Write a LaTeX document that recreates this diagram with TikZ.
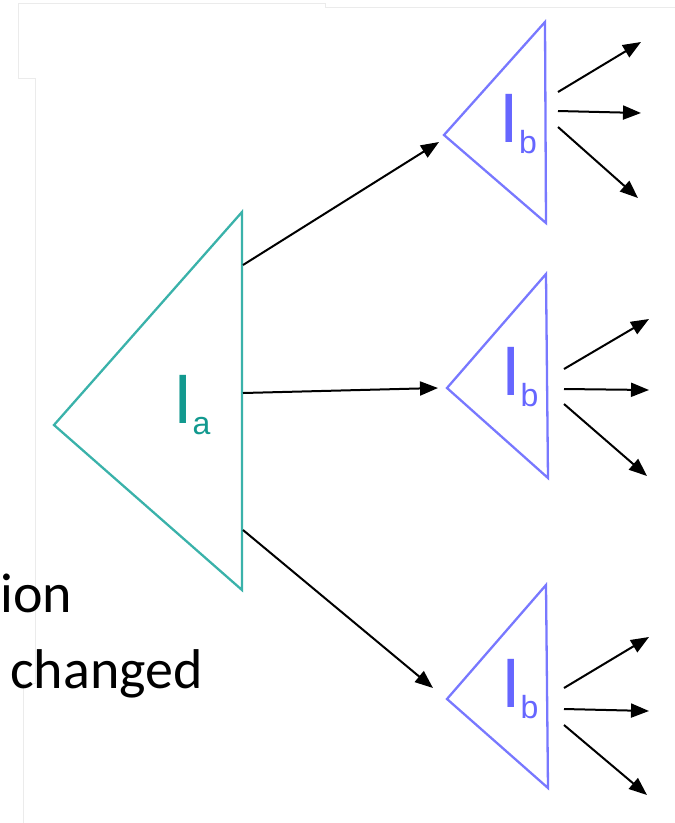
\documentclass[tikz,border=0pt]{standalone}
\usepackage{fontspec}
\setmainfont{Liberation Sans}
\newfontfamily\calib{Carlito}
\usetikzlibrary{arrows.meta}
\definecolor{tealline}{HTML}{3AB2AA}
\definecolor{teallab}{HTML}{12998F}
\definecolor{blueline}{HTML}{7878FF}
\definecolor{bluelab}{HTML}{6666FF}
\definecolor{faint}{HTML}{EBEBEB}
\tikzset{
  tria/.style={draw=tealline, line width=2.3pt, line join=miter},
  trib/.style={draw=blueline, line width=2.3pt, line join=miter},
  conn/.style={draw=black, line width=2pt, -{Triangle[length=18pt,width=14pt]}},
  lab/.style={inner sep=0pt, anchor=base west},
  faintline/.style={draw=faint, line width=0.9pt}
}
\newcommand{\mylab}[1]{{\fontsize{70}{70}\selectfont I}\raisebox{-11pt}{\fontsize{32}{32}\selectfont #1}}
\begin{document}
\begin{tikzpicture}[x=1pt,y=-1pt]
\useasboundingbox (0,0) rectangle (675,823);
% faint screenshot edges
\draw[faintline] (18,3) -- (325,3) -- (325,7) -- (675,7);
\draw[faintline] (18,3) -- (18,78) -- (35,78) -- (35,683) -- (23,683) -- (23,823);
% big triangle
\draw[tria] (54,425) -- (242,212) -- (242,590) -- cycle;
\node[lab, text=teallab] (la) at (173,423) {\mylab{a}};
% small triangles
\draw[trib] (444,135) -- (545,22) -- (546,223) -- cycle;
\draw[trib] (447,388) -- (546,274) -- (548,478) -- cycle;
\draw[trib] (447,699) -- (546,585) -- (548,788) -- cycle;
\node[lab, text=bluelab] (lb1) at (499.5,142) {\mylab{b}};
\node[lab, text=bluelab] (lb2) at (501,395) {\mylab{b}};
\node[lab, text=bluelab] (lb3) at (501,707) {\mylab{b}};
% coordinates
\coordinate (s1) at (243,265); \coordinate (e1) at (439,142);
\coordinate (s2) at (243,393); \coordinate (e2) at (438,388);
\coordinate (s3) at (243,530); \coordinate (e3) at (433,688);
\draw[conn] (s1) -- (e1);
\draw[conn] (s2) -- (e2);
\draw[conn] (s3) -- (e3);
% top group
\coordinate (t1s) at (558,92);  \coordinate (t1e) at (641,42);
\coordinate (t2s) at (558,111); \coordinate (t2e) at (641,113);
\coordinate (t3s) at (558,127); \coordinate (t3e) at (638,198);
% middle group
\coordinate (m1s) at (564,369); \coordinate (m1e) at (649,319);
\coordinate (m2s) at (564,389); \coordinate (m2e) at (649,390);
\coordinate (m3s) at (564,404); \coordinate (m3e) at (647,476);
% bottom group
\coordinate (b1s) at (564,688); \coordinate (b1e) at (649,637);
\coordinate (b2s) at (564,709); \coordinate (b2e) at (649,711);
\coordinate (b3s) at (564,725); \coordinate (b3e) at (647,795);
\foreach \p in {t1,t2,t3,m1,m2,m3,b1,b2,b3}{
  \draw[conn] (\p s) -- (\p e);
}
% clipped slide text
\node[lab, font=\calib\fontsize{56}{56}\selectfont] (ion) at (0,612) {ion};
\node[lab, font=\calib\fontsize{56}{56}\selectfont] (chg) at (10,688) {changed};
\end{tikzpicture}
\end{document}
